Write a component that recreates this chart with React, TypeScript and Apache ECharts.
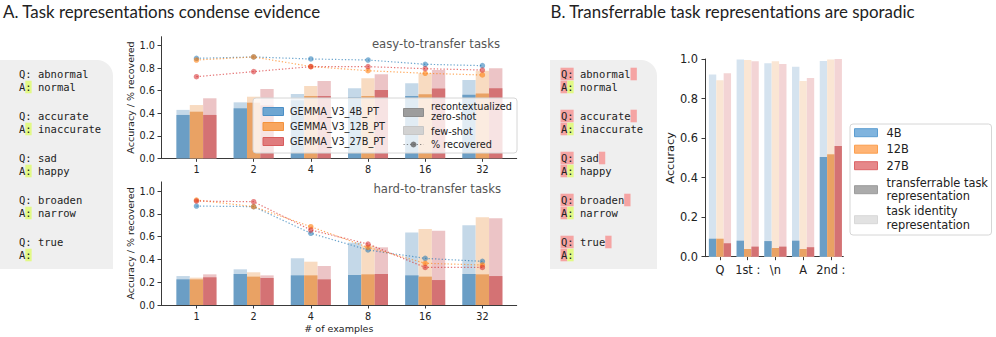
import React, { useEffect, useRef } from "react";
import * as echarts from "echarts";

// ---------- data ----------
const shotLabels = ["1", "2", "4", "8", "16", "32"];
const modelNames = ["GEMMA_V3_4B_PT", "GEMMA_V3_12B_PT", "GEMMA_V3_27B_PT"];
const sizeLabels = ["4B", "12B", "27B"];
const tokenLabels = ["Q", "1st :", "\\n", "A", "2nd :"];

// easy-to-transfer tasks
const easyFewShot4B = [0.43, 0.497, 0.571, 0.622, 0.666, 0.695];
const easyFewShot12B = [0.473, 0.547, 0.642, 0.711, 0.755, 0.778];
const easyFewShot27B = [0.533, 0.615, 0.687, 0.746, 0.784, 0.8];
const easyZero4B = [0.385, 0.444, 0.515, 0.542, 0.553, 0.565];
const easyZero12B = [0.414, 0.494, 0.553, 0.553, 0.568, 0.575];
const easyZero27B = [0.385, 0.47, 0.553, 0.607, 0.62, 0.623];
const easyRec4B = [0.888, 0.9, 0.882, 0.873, 0.835, 0.823];
const easyRec12B = [0.873, 0.9, 0.815, 0.778, 0.755, 0.74];
const easyRec27B = [0.725, 0.77, 0.814, 0.814, 0.796, 0.784];

// hard-to-transfer tasks
const hardFewShot4B = [0.254, 0.313, 0.41, 0.547, 0.637, 0.7];
const hardFewShot12B = [0.24, 0.287, 0.38, 0.52, 0.667, 0.769];
const hardFewShot27B = [0.269, 0.26, 0.342, 0.506, 0.652, 0.76];
const hardZero4B = [0.225, 0.272, 0.26, 0.263, 0.26, 0.272];
const hardZero12B = [0.225, 0.249, 0.26, 0.269, 0.249, 0.269];
const hardZero27B = [0.243, 0.237, 0.225, 0.272, 0.219, 0.254];
const hardRec4B = [0.868, 0.863, 0.629, 0.483, 0.409, 0.383];
const hardRec12B = [0.921, 0.863, 0.687, 0.506, 0.366, 0.351];
const hardRec27B = [0.912, 0.906, 0.658, 0.535, 0.33, 0.33];

// panel B
const identity4B = [0.922, 0.998, 0.978, 0.961, 0.99];
const identity12B = [0.892, 0.995, 0.988, 0.889, 0.997];
const identity27B = [0.928, 0.988, 0.975, 0.904, 1.0];
const transfer4B = [0.091, 0.081, 0.079, 0.081, 0.504];
const transfer12B = [0.091, 0.039, 0.044, 0.039, 0.518];
const transfer27B = [0.068, 0.051, 0.051, 0.048, 0.56];

const yTicks = [0, 0.2, 0.4, 0.6, 0.8, 1.0];

const queries = ["abnormal", "accurate", "sad", "broaden", "true"];
const answers = ["normal", "inaccurate", "happy", "narrow", ""];

const titleA = "A. Task representations condense evidence";
const titleB = "B. Transferrable task representations are sporadic";

// ---------- styles ----------
const darkCols = ["#6b9ec5", "#e9a264", "#d47274"];
const lightColsA = ["#c4d8e8", "#f8dbc1", "#ecc4c6"];
const lightColsB = ["#d5e3ef", "#fae6d4", "#f3d4d5"];
const lineCols = ["rgba(31,119,180,0.65)", "rgba(255,127,14,0.65)", "rgba(214,39,40,0.65)"];
const dotCols = ["rgba(31,119,180,0.55)", "rgba(255,127,14,0.6)", "rgba(214,39,40,0.55)"];
const SANS = "DejaVu Sans";
const MONO = "DejaVu Sans Mono";

function makeBars(ai: number, values: number[], modelIdx: number, frac: number, color: string, z: number) {
  return {
    type: "custom",
    xAxisIndex: ai,
    yAxisIndex: ai,
    z,
    silent: true,
    data: values.map((v, i) => [i, v]),
    encode: { x: 0, y: 1 },
    renderItem: (_p: any, api: any) => {
      const x = api.value(0);
      const v = api.value(1);
      const top = api.coord([x, v]);
      const base = api.coord([x, 0]);
      const unit = api.size([1, 0])[0];
      const w = (unit * frac) / 3;
      const left = top[0] - (unit * frac) / 2 + modelIdx * w;
      return {
        type: "rect",
        shape: { x: left, y: top[1], width: w, height: base[1] - top[1] },
        style: { fill: color },
      };
    },
  };
}

function makeLine(ai: number, values: number[], k: number) {
  return {
    type: "line",
    xAxisIndex: ai,
    yAxisIndex: ai,
    z: 5,
    silent: true,
    data: values.map((v, i) => [i, v]),
    symbol: "circle",
    symbolSize: 5.5,
    lineStyle: { color: lineCols[k], width: 1.2, type: [1.3, 2] },
    itemStyle: { color: dotCols[k], borderWidth: 0 },
  };
}

const axisColor = "#3a3a3a";

function xAxisDef(gi: number, min: number, max: number, labels: string[], fs: number, margin: number, name?: string) {
  const vals = labels.map((_, i) => i);
  return {
    type: "value",
    gridIndex: gi,
    min,
    max,
    axisLine: { show: true, onZero: false, lineStyle: { color: axisColor, width: 1 } },
    axisTick: { show: true, length: 3.5, customValues: vals, lineStyle: { color: axisColor } },
    axisLabel: {
      customValues: vals,
      formatter: (v: number) => labels[Math.round(v)],
      fontFamily: SANS,
      fontSize: fs,
      color: "#222",
      margin,
    },
    splitLine: { show: false },
    name: name || "",
    nameLocation: "middle",
    nameGap: 18,
    nameTextStyle: { fontFamily: SANS, fontSize: 9.5, color: "#222" },
  };
}

function yAxisDef(gi: number, max: number, fs: number, margin: number, name: string, nameGap: number, nfs: number) {
  return {
    type: "value",
    gridIndex: gi,
    min: 0,
    max,
    axisLine: { show: true, onZero: false, lineStyle: { color: axisColor, width: 1 } },
    axisTick: { show: true, length: 3.5, customValues: yTicks, lineStyle: { color: axisColor } },
    axisLabel: {
      customValues: yTicks,
      formatter: (v: number) => v.toFixed(1),
      fontFamily: SANS,
      fontSize: fs,
      color: "#222",
      margin,
    },
    splitLine: { show: false },
    name,
    nameLocation: "middle",
    nameGap,
    nameTextStyle: { fontFamily: SANS, fontSize: nfs, color: "#222" },
  };
}

function txt(x: number, y: number, text: string, font: string, fill: string, align = "left", z = 10) {
  return {
    type: "text",
    z,
    x,
    y,
    silent: true,
    style: { text, font, fill, textAlign: align, align, textVerticalAlign: "middle", verticalAlign: "middle" },
  };
}

function rect(x: number, y: number, w: number, h: number, fill: string, z = 5, stroke?: string, r: any = 0) {
  return {
    type: "rect",
    z,
    silent: true,
    shape: { x, y, width: w, height: h, r },
    style: stroke ? { fill, stroke, lineWidth: 1 } : { fill },
  };
}

function buildGraphics() {
  const g: any[] = [];
  g.push(txt(3, 11.5, titleA, "16.9px Lato", "#222"));
  g.push(txt(550.5, 11.5, titleB, "16.9px Lato", "#222"));

  // prompt panels
  g.push(rect(0, 60, 113, 209, "#efefef", 1, undefined, [0, 16, 0, 0]));
  g.push(rect(550, 60, 107, 209, "#efefef", 1, undefined, [0, 16, 0, 0]));
  const cw = 6.32;
  const monoFont = `10.5px ${MONO}`;
  const pink = "#f5a4a3";
  const lime = "#e2f985";
  queries.forEach((q, i) => {
    const qy = 74 + 42 * i;
    const ay = qy + 13;
    // left panel
    const lx = 19;
    g.push(rect(lx + cw, ay - 6.3, cw, 12.6, lime, 2));
    g.push(txt(lx, qy, `Q: ${q}`, monoFont, "#222"));
    g.push(txt(lx, ay, answers[i] ? `A: ${answers[i]}` : "A:", monoFont, "#222"));
    // right panel
    const rx = 561;
    g.push(rect(rx - 0.5, qy - 6.3, 2 * cw + 0.5, 12.6, pink, 2));
    g.push(rect(rx + (3 + q.length) * cw, qy - 6.3, cw, 12.6, pink, 2));
    g.push(rect(rx - 0.5, ay - 6.3, cw + 0.5, 12.6, pink, 2));
    g.push(rect(rx + cw, ay - 6.3, cw, 12.6, lime, 2));
    g.push(txt(rx, qy, `Q: ${q}`, monoFont, "#222"));
    g.push(txt(rx, ay, answers[i] ? `A: ${answers[i]}` : "A:", monoFont, "#222"));
  });

  // subplot titles
  g.push(txt(500, 44, "easy-to-transfer tasks", `11.7px ${SANS}`, "#555", "right"));
  g.push(txt(501, 188.5, "hard-to-transfer tasks", `11.7px ${SANS}`, "#555", "right"));

  // legend A
  const lz = 50;
  g.push(rect(253, 98, 264, 55, "rgba(255,255,255,0.8)", lz, "#d6d6d6", 3));
  const legFont = `9.7px ${SANS}`;
  const patchA = [
    ["#6ea6d2", "#4c8fc6"],
    ["#f8a660", "#f3923e"],
    ["#e07b7d", "#d75c5e"],
  ];
  modelNames.forEach((m, k) => {
    const cy = 111.5 + 15 * k;
    g.push(rect(263, cy - 4, 20.5, 8, patchA[k][0], lz + 1, patchA[k][1]));
    g.push(txt(290, cy, m, legFont, "#222", "left", lz + 1));
  });
  g.push(rect(403.5, 108.5, 20, 8, "#9d9d9d", lz + 1, "#8c8c8c"));
  g.push(txt(431, 106.7, "recontextualized", legFont, "#222", "left", lz + 1));
  g.push(txt(431, 116.9, "zero-shot", legFont, "#222", "left", lz + 1));
  g.push(rect(403.5, 126.5, 20, 8, "#d2d2d2", lz + 1, "#c6c6c6"));
  g.push(txt(431, 131, "few-shot", legFont, "#222", "left", lz + 1));
  g.push({
    type: "line",
    z: lz + 1,
    silent: true,
    shape: { x1: 403.5, y1: 144.5, x2: 423.5, y2: 144.5 },
    style: { stroke: "rgba(90,90,90,0.7)", lineWidth: 1.2, lineDash: [1.3, 2] },
  });
  g.push({ type: "circle", z: lz + 2, silent: true, shape: { cx: 413.5, cy: 144.5, r: 3 }, style: { fill: "rgba(90,90,90,0.75)" } });
  g.push(txt(431, 144.5, "% recovered", legFont, "#222", "left", lz + 1));

  // legend B
  g.push(rect(850, 124, 141.5, 111, "rgba(255,255,255,0.8)", lz, "#d6d6d6", 3));
  const legFontB = `11.4px ${SANS}`;
  const patchB = [
    ["#80b4de", "#5c9dd0"],
    ["#ffb475", "#fb9f4e"],
    ["#e6888a", "#dc6668"],
  ];
  sizeLabels.forEach((s, k) => {
    const cy = 132.7 + 16.5 * k;
    g.push(rect(854.5, cy - 4, 23, 8, patchB[k][0], lz + 1, patchB[k][1]));
    g.push(txt(886.5, cy, s, legFontB, "#222", "left", lz + 1));
  });
  g.push(rect(854.5, 185.7, 23, 8, "#ababab", lz + 1, "#9c9c9c"));
  g.push(txt(886.5, 182.7, "transferrable task", legFontB, "#222", "left", lz + 1));
  g.push(txt(886.5, 196, "representation", legFontB, "#222", "left", lz + 1));
  g.push(rect(854.5, 215.7, 23, 8, "#e2e2e2", lz + 1, "#d8d8d8"));
  g.push(txt(886.5, 210.7, "task identity", legFontB, "#222", "left", lz + 1));
  g.push(txt(886.5, 225, "representation", legFontB, "#222", "left", lz + 1));
  return g;
}

export default function App() {
  const ref = useRef<HTMLDivElement>(null);
  useEffect(() => {
    if (!ref.current) return;
    const chart = echarts.init(ref.current, undefined, { renderer: "svg" });

    const easyFew = [easyFewShot4B, easyFewShot12B, easyFewShot27B];
    const easyZero = [easyZero4B, easyZero12B, easyZero27B];
    const easyRec = [easyRec4B, easyRec12B, easyRec27B];
    const hardFew = [hardFewShot4B, hardFewShot12B, hardFewShot27B];
    const hardZero = [hardZero4B, hardZero12B, hardZero27B];
    const hardRec = [hardRec4B, hardRec12B, hardRec27B];
    const ident = [identity4B, identity12B, identity27B];
    const trans = [transfer4B, transfer12B, transfer27B];

    const series: any[] = [];
    [0, 1, 2].forEach((k) => series.push(makeBars(0, easyFew[k], k, 0.7, lightColsA[k], 1)));
    [0, 1, 2].forEach((k) => series.push(makeBars(0, easyZero[k], k, 0.7, darkCols[k], 2)));
    [0, 1, 2].forEach((k) => series.push(makeLine(0, easyRec[k], k)));
    [0, 1, 2].forEach((k) => series.push(makeBars(1, hardFew[k], k, 0.7, lightColsA[k], 1)));
    [0, 1, 2].forEach((k) => series.push(makeBars(1, hardZero[k], k, 0.7, darkCols[k], 2)));
    [0, 1, 2].forEach((k) => series.push(makeLine(1, hardRec[k], k)));
    [0, 1, 2].forEach((k) => series.push(makeBars(2, ident[k], k, 0.8, lightColsB[k], 1)));
    [0, 1, 2].forEach((k) => series.push(makeBars(2, trans[k], k, 0.8, darkCols[k], 2)));

    chart.setOption({
      animation: false,
      backgroundColor: "#ffffff",
      textStyle: { fontFamily: SANS },
      grid: [
        { left: 161, top: 36.7, width: 355.7, height: 121.6 },
        { left: 161, top: 181.9, width: 355.7, height: 123.1 },
        { left: 705, top: 59, width: 138.3, height: 197.7 },
      ],
      xAxis: [
        xAxisDef(0, -0.62, 5.6, shotLabels, 9.7, 6.5),
        xAxisDef(1, -0.62, 5.6, shotLabels, 9.7, 6.5, "# of examples"),
        xAxisDef(2, -0.54, 4.45, tokenLabels, 11.4, 7.5),
      ],
      yAxis: [
        yAxisDef(0, 1.08, 9.7, 6, "Accuracy / % recovered", 26, 9.5),
        yAxisDef(1, 1.08, 9.7, 6, "Accuracy / % recovered", 26, 9.5),
        yAxisDef(2, 1.0, 11.4, 7, "Accuracy", 29, 11.3),
      ],
      series,
      graphic: { elements: buildGraphics() },
    });
    return () => chart.dispose();
  }, []);
  return (
    <div
      ref={ref}
      style={{ position: "absolute", left: 0, top: 0, width: 996, height: 337, background: "#fff" }}
    />
  );
}
